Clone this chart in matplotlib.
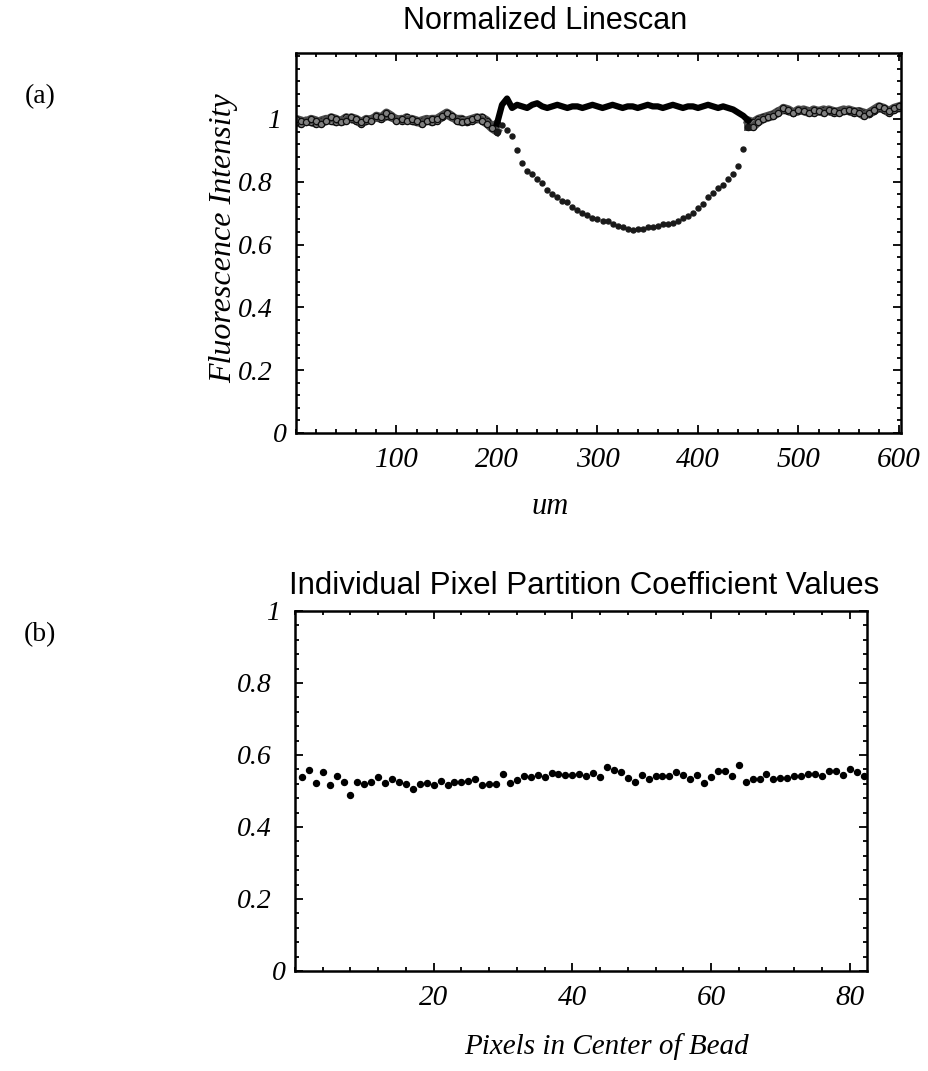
import numpy as np
import matplotlib.pyplot as plt
from matplotlib.ticker import MultipleLocator
from matplotlib.transforms import ScaledTranslation

# (a) normalized linescan, sampled every 5 um
scan_um = np.arange(0, 605, 5)
control = [0.99, 0.985, 0.995, 0.99, 0.985, 0.995, 1.0, 0.995, 0.99, 0.995,
           1.005, 1.0, 0.995, 0.985, 0.995, 1.0, 1.005, 1.0, 1.01, 1.005,
           1.0, 0.995, 1.005, 0.995, 0.99, 0.995, 1.0, 0.99, 0.995, 1.005,
           1.015, 1.005, 1.0, 1.0, 0.99, 0.995, 1.0, 1.005, 0.995, 0.975,
           0.985, 1.045, 1.065, 1.035, 1.045, 1.04, 1.035, 1.045, 1.05, 1.04,
           1.035, 1.04, 1.045, 1.04, 1.035, 1.04, 1.04, 1.035, 1.04, 1.045,
           1.04, 1.035, 1.04, 1.045, 1.04, 1.035, 1.04, 1.04, 1.035, 1.04,
           1.045, 1.04, 1.04, 1.035, 1.04, 1.045, 1.04, 1.035, 1.04, 1.04,
           1.035, 1.04, 1.045, 1.04, 1.035, 1.04, 1.035, 1.03, 1.02, 1.01,
           0.995, 0.99, 1.0, 1.005, 1.01, 1.015, 1.025, 1.03, 1.025, 1.02,
           1.025, 1.03, 1.025, 1.02, 1.025, 1.03, 1.025, 1.02, 1.025, 1.03,
           1.025, 1.02, 1.025, 1.02, 1.015, 1.025, 1.035, 1.03, 1.02, 1.03,
           1.035]
bead = [1.0, 0.995, 0.99, 1.0, 0.995, 0.985, 0.995, 1.005, 1.0, 0.99,
        0.995, 1.005, 1.0, 0.99, 1.0, 0.995, 1.01, 1.005, 1.02, 1.01,
        0.995, 1.0, 0.995, 1.0, 0.995, 0.985, 0.995, 1.0, 1.0, 1.01,
        1.02, 1.01, 0.995, 0.99, 0.995, 1.0, 1.005, 0.995, 0.985, 0.97,
        0.96, 0.98, 0.965, 0.945, 0.90, 0.86, 0.835, 0.825, 0.81, 0.795,
        0.775, 0.76, 0.75, 0.74, 0.735, 0.72, 0.71, 0.70, 0.695, 0.685,
        0.68, 0.675, 0.675, 0.665, 0.66, 0.655, 0.65, 0.645, 0.65, 0.65,
        0.655, 0.655, 0.66, 0.665, 0.665, 0.67, 0.675, 0.685, 0.69, 0.70,
        0.715, 0.73, 0.75, 0.765, 0.78, 0.79, 0.81, 0.825, 0.85, 0.905,
        0.975, 0.975, 0.99, 1.0, 1.005, 1.01, 1.02, 1.035, 1.03, 1.02,
        1.03, 1.025, 1.02, 1.03, 1.025, 1.02, 1.03, 1.025, 1.02, 1.025,
        1.03, 1.025, 1.02, 1.01, 1.02, 1.03, 1.04, 1.035, 1.025, 1.035,
        1.04]
bead_start, bead_end = 200, 450

# (b) partition coefficient for each pixel
pixel = np.arange(1, 83)
coeff = [0.540, 0.558, 0.522, 0.552, 0.518, 0.542, 0.526, 0.489, 0.524, 0.520,
         0.524, 0.540, 0.522, 0.534, 0.525, 0.519, 0.506, 0.520, 0.522, 0.518,
         0.529, 0.516, 0.525, 0.526, 0.529, 0.533, 0.518, 0.520, 0.520, 0.547,
         0.522, 0.531, 0.542, 0.538, 0.545, 0.538, 0.549, 0.547, 0.545, 0.545,
         0.547, 0.543, 0.551, 0.540, 0.566, 0.558, 0.554, 0.535, 0.525, 0.545,
         0.533, 0.543, 0.542, 0.542, 0.554, 0.545, 0.533, 0.545, 0.522, 0.538,
         0.556, 0.556, 0.543, 0.573, 0.526, 0.533, 0.533, 0.547, 0.533, 0.535,
         0.535, 0.543, 0.542, 0.547, 0.547, 0.543, 0.556, 0.556, 0.545, 0.561,
         0.554, 0.543]

y_ticks = [0, 0.2, 0.4, 0.6, 0.8, 1]
y_labels = ['0', '0.2', '0.4', '0.6', '0.8', '1']

W, H = 929, 1071
serif = 'Liberation Serif'
sans = 'Liberation Sans'

fig = plt.figure(figsize=(W / 100, H / 100), dpi=100)


def box(l, t, r, b):
    return [l / W, 1 - b / H, (r - l) / W, (b - t) / H]


def style(ax, xmaj, xmin, ymaj, ymin):
    ax.xaxis.set_major_locator(MultipleLocator(xmaj))
    ax.xaxis.set_minor_locator(MultipleLocator(xmin))
    ax.yaxis.set_major_locator(MultipleLocator(ymaj))
    ax.yaxis.set_minor_locator(MultipleLocator(ymin))
    ax.tick_params(which='both', direction='in', top=True, right=True, width=1.3)
    ax.tick_params(which='major', length=6)
    ax.tick_params(which='minor', length=3)
    ax.tick_params(axis='x', pad=10)
    ax.tick_params(axis='y', pad=2)
    for s in ax.spines.values():
        s.set_linewidth(1.8)


def ylabels(ax):
    ax.set_yticks(y_ticks)
    labs = ax.set_yticklabels(y_labels, family=serif, style='italic', fontsize=20)
    # old-style label placement: "0" hugs the corner, "1" and decimals sit further out
    for lab in labs:
        t = lab.get_text()
        dx = -6 if t == '0' else (-12 if t == '1' else -21)
        lab.set_transform(lab.get_transform() + ScaledTranslation(dx / 100, 0, fig.dpi_scale_trans))


# ---- (a)
ax1 = fig.add_axes(box(296, 53, 901, 433))
x = np.array(scan_um)
c = np.array(control)
b = np.array(bead)
side = (x <= bead_start) | (x >= bead_end)
mid = (x >= bead_start) & (x <= bead_end)
for y in (c, b):
    ax1.plot(x[x <= bead_start], y[x <= bead_start], color='0.3', lw=6)
    ax1.plot(x[x >= bead_end], y[x >= bead_end], color='0.3', lw=6)
    ax1.plot(x[side], y[side], 'o', ms=4.5, mfc='0.5', mec='0.05', mew=0.9, ls='none')
ax1.plot(x[mid], c[mid], color='black', lw=4.5)
ax1.plot(x[mid], b[mid], 'o', ms=3.6, color='0.1', ls='none')
ax1.set_xlim(0, 602)
ax1.set_ylim(0, 1.21)
style(ax1, 100, 20, 0.2, 0.04)
ax1.set_xticks([100, 200, 300, 400, 500, 600])
ax1.set_xticklabels(['100', '200', '300', '400', '500', '600'],
                    family=serif, style='italic', fontsize=21)
ylabels(ax1)

# ---- (b)
ax2 = fig.add_axes(box(295, 611, 867, 971))
ax2.plot(pixel, coeff, 'o', ms=4.3, color='black', ls='none')
ax2.set_xlim(0, 82.5)
ax2.set_ylim(0, 1)
style(ax2, 20, 4, 0.2, 0.04)
ax2.set_xticks([20, 40, 60, 80])
ax2.set_xticklabels(['20', '40', '60', '80'], family=serif, style='italic', fontsize=21)
ylabels(ax2)


def ftext(px, py, s, **kw):
    fig.text(px / W, 1 - py / H, s, ha='center', va='center', **kw)


ftext(545, 21, 'Normalized Linescan', family=sans, fontsize=22)
ftext(584, 586, 'Individual Pixel Partition Coefficient Values', family=sans, fontsize=22.5)
ftext(224, 238, 'Fluorescence Intensity', family=serif, style='italic', fontsize=23, rotation=90)
ftext(550, 507, 'um', family=serif, style='italic', fontsize=22)
ftext(607, 1047, 'Pixels in Center of Bead', family=serif, style='italic', fontsize=21)
ftext(40, 97, '(a)', family=serif, fontsize=20)
ftext(40, 635, '(b)', family=serif, fontsize=20)

fig.savefig('out.png', dpi=100)
